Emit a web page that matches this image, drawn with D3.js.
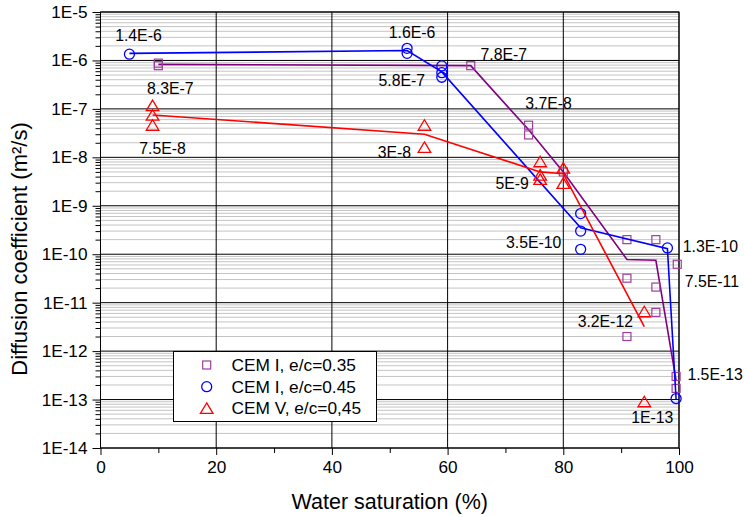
<!DOCTYPE html>
<html>
<head>
<meta charset="utf-8">
<script src="https://cdn.jsdelivr.net/npm/d3@7"></script>
<style>
body { margin: 0; background: #fff; }
text { font-family: "Liberation Sans", Arial, sans-serif; fill: #000; }
</style>
</head>
<body>
<svg id="chart" width="744" height="517"></svg>
<script>
// CEM I, e/c=0.35 : individual measurements (squares) and mean line
var satA = [10, 10, 64, 74, 74, 80, 91, 91, 91, 96, 96, 96, 99.7, 99.5, 99.5];
var difA = [8.8e-7, 7.8e-7, 7.8e-7, 4.6e-8, 2.9e-8, 5e-9, 2.0e-10, 3.2e-11, 2.0e-12, 2.0e-10, 2.1e-11, 6.3e-12, 6.2e-11, 3.0e-13, 1.7e-13];
var meanSatA = [10, 64, 74, 80, 91, 96, 99.5];
var meanDifA = [8.3e-7, 7.8e-7, 3.7e-8, 5e-9, 7.8e-11, 7.5e-11, 2.5e-13];

// CEM I, e/c=0.45 : circles
var satB = [5, 53, 53, 59, 59, 59, 83, 83, 83, 98, 99.5];
var difB = [1.35e-6, 1.78e-6, 1.4e-6, 7.7e-7, 5.6e-7, 4.5e-7, 6.9e-10, 3.0e-10, 1.26e-10, 1.35e-10, 1.05e-13];
var meanSatB = [5, 53, 59, 83, 98, 99.5];
var meanDifB = [1.4e-6, 1.6e-6, 5.8e-7, 3.5e-10, 1.3e-10, 1.0e-13];

// CEM V, e/c=0,45 : triangles
var satC = [9, 9, 9, 56, 56, 76, 76, 76, 80, 80, 94, 94];
var difC = [1.17e-7, 7.4e-8, 4.6e-8, 4.6e-8, 1.6e-8, 8.1e-9, 4.3e-9, 3.5e-9, 6.0e-9, 2.9e-9, 6.5e-12, 9e-14];
var meanSatC = [9, 56, 76, 80, 94];
var meanDifC = [7.5e-8, 3.0e-8, 5e-9, 4.6e-9, 3.2e-12];

// value labels and the point each one refers to
var labelText = ["1.4E-6", "8.3E-7", "7.5E-8", "1.6E-6", "5.8E-7", "7.8E-7", "3.7E-8", "3E-8", "5E-9", "3.5E-10", "1.3E-10", "7.5E-11", "3.2E-12", "1.5E-13", "1E-13"];
var labelSat = [5, 10, 9, 53, 59, 64, 74, 56, 76, 83, 98, 96, 94, 99.5, 94];
var labelDif = [1.4e-6, 8.3e-7, 7.5e-8, 1.6e-6, 5.8e-7, 7.8e-7, 3.7e-8, 3e-8, 5e-9, 3.5e-10, 1.3e-10, 7.5e-11, 3.2e-12, 2.5e-13, 9e-14];

var legendNames = ["CEM I, e/c=0.35", "CEM I, e/c=0.45", "CEM V, e/c=0,45"];
var xTicks = [0, 20, 40, 60, 80, 100];
var xMinor = [10, 30, 50, 70, 90];

var svg = d3.select("#chart");
var plotL = 100.5, plotR = 679, plotT = 12, plotB = 448;

var x = d3.scaleLinear().domain([0, 100]).range([plotL, plotR]);
var y = d3.scaleLog().domain([1e-14, 1e-5]).range([plotB, plotT]);

var decades = d3.range(-14, -4).map(function (e) { return Math.pow(10, e); });
var minors = [];
d3.range(-14, -5).forEach(function (e) {
    for (var k = 2; k <= 9; k++) minors.push(k * Math.pow(10, e));
});

// grid
var grid = svg.append("g");
grid.selectAll(".minor").data(minors).enter().append("line")
    .attr("x1", plotL).attr("x2", plotR)
    .attr("y1", function (d) { return y(d); }).attr("y2", function (d) { return y(d); })
    .attr("stroke", "#c4c4c4").attr("stroke-width", 1);
grid.selectAll(".major").data(decades).enter().append("line")
    .attr("x1", plotL).attr("x2", plotR)
    .attr("y1", function (d) { return y(d); }).attr("y2", function (d) { return y(d); })
    .attr("stroke", "#000").attr("stroke-width", 1);
grid.selectAll(".vgrid").data(xTicks).enter().append("line")
    .attr("x1", function (d) { return x(d); }).attr("x2", function (d) { return x(d); })
    .attr("y1", plotT).attr("y2", plotB)
    .attr("stroke", "#000").attr("stroke-width", 1);

// axes
var fmt = function (d) { return "1E" + Math.round(Math.log10(d)); };
var yAxis = svg.append("g").attr("transform", "translate(" + plotL + ",0)")
    .call(d3.axisLeft(y).tickValues(decades).tickFormat(fmt).tickSize(8).tickPadding(5));
var yMinor = svg.append("g").attr("transform", "translate(" + plotL + ",0)")
    .call(d3.axisLeft(y).tickValues(minors).tickFormat("").tickSize(5));
var xAxis = svg.append("g").attr("transform", "translate(0," + plotB + ")")
    .call(d3.axisBottom(x).tickValues(xTicks).tickSize(7).tickPadding(6));
var xMin = svg.append("g").attr("transform", "translate(0," + plotB + ")")
    .call(d3.axisBottom(x).tickValues(xMinor).tickFormat("").tickSize(5));
[yAxis, yMinor, xAxis, xMin].forEach(function (g) {
    g.select(".domain").remove();
    g.selectAll("line").attr("stroke", "#000");
    g.selectAll("text").style("font-size", "17.2px").attr("fill", "#000");
});

svg.append("rect").attr("x", plotL).attr("y", plotT)
    .attr("width", plotR - plotL).attr("height", plotB - plotT)
    .attr("fill", "none").attr("stroke", "#000").attr("stroke-width", 1);

// titles
svg.append("text").attr("x", (plotL + plotR) / 2).attr("y", 509)
    .attr("text-anchor", "middle").style("font-size", "21.5px")
    .text("Water saturation (%)");
svg.append("text").attr("transform", "translate(27,249) rotate(-90)")
    .attr("text-anchor", "middle").style("font-size", "22px")
    .text("Diffusion coefficient (m\u00b2/s)");

// series
var line = d3.line().x(function (d) { return x(d[0]); }).y(function (d) { return y(d[1]); });
var series = [
    { sat: satA, dif: difA, ms: meanSatA, md: meanDifA, line: "#800080", mark: "#9b3f9b", shape: "square" },
    { sat: satB, dif: difB, ms: meanSatB, md: meanDifB, line: "#0000ff", mark: "#0000ff", shape: "circle" },
    { sat: satC, dif: difC, ms: meanSatC, md: meanDifC, line: "#ff0000", mark: "#ff0000", shape: "triangle" }
];

function drawMark(g, shape, color) {
    if (shape === "square") {
        g.append("rect").attr("x", -4).attr("y", -4).attr("width", 8).attr("height", 8)
            .attr("fill", "none").attr("stroke", color).attr("stroke-width", 1.2);
    } else if (shape === "circle") {
        g.append("circle").attr("r", 5).attr("fill", "none")
            .attr("stroke", color).attr("stroke-width", 1.3);
    } else {
        g.append("path").attr("d", "M0,-5.5L6.3,5L-6.3,5Z").attr("fill", "none")
            .attr("stroke", color).attr("stroke-width", 1.3);
    }
}

series.forEach(function (s) {
    var pts = s.ms.map(function (v, i) { return [v, s.md[i]]; });
    svg.append("path").attr("d", line(pts)).attr("fill", "none")
        .attr("stroke", s.line).attr("stroke-width", 1.6);
    s.sat.forEach(function (v, i) {
        var g = svg.append("g").attr("transform", "translate(" + x(v) + "," + y(s.dif[i]) + ")");
        drawMark(g, s.shape, s.mark);
    });
});

// value labels, offset from the point they describe
var labelOffset = [[9, -18], [12, 24], [10, 34], [5, -18], [-40, 9], [33, -11], [20, -26], [-30, 18],
    [-28, 12], [-47, 15], [43, -2], [56, 21], [-39, -5], [39, -6], [8, 16]];
labelText.forEach(function (t, i) {
    svg.append("text")
        .attr("x", x(labelSat[i]) + labelOffset[i][0])
        .attr("y", y(labelDif[i]) + labelOffset[i][1])
        .attr("text-anchor", "middle").attr("dominant-baseline", "central")
        .style("font-size", "15.8px").text(t);
});

// legend
var legend = svg.append("g");
legend.append("rect").attr("x", 173.5).attr("y", 351.5).attr("width", 203).attr("height", 70)
    .attr("fill", "#fff").attr("stroke", "#000").attr("stroke-width", 1);
legendNames.forEach(function (name, i) {
    var ly = 365 + i * 21.7;
    var g = legend.append("g").attr("transform", "translate(206.7," + ly + ")");
    drawMark(g, series[i].shape, series[i].mark);
    legend.append("text").attr("x", 231.5).attr("y", ly)
        .attr("dominant-baseline", "central").style("font-size", "17.3px").text(name);
});
</script>
</body>
</html>
